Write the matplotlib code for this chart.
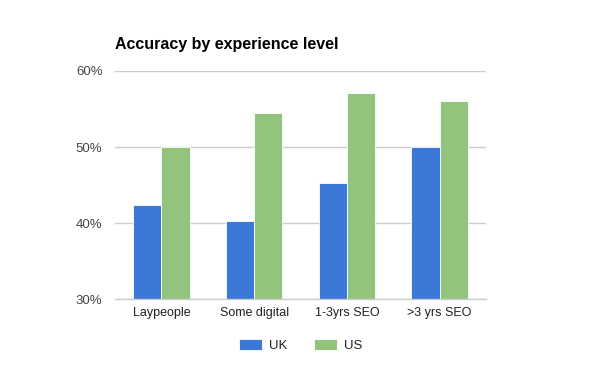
import matplotlib.pyplot as plt
import numpy as np

# Data
categories = ["Laypeople", "Some digital", "1-3yrs SEO", ">3 yrs SEO"]
uk_values = [42.4, 40.2, 45.2, 50.0]
us_values = [50.0, 54.5, 57.1, 56.0]
y_ticks = [30, 40, 50, 60]

plt.rcParams['font.family'] = ['Liberation Sans', 'DejaVu Sans']

fig = plt.figure(figsize=(6, 3.71), dpi=100)
ax = fig.add_axes([115 / 600, 1 - 299 / 371, 371 / 600, 228 / 371])

x = np.arange(len(categories))
width = 0.305
ax.bar(x - width / 2, uk_values, width, color="#3c78d8",
       edgecolor="white", linewidth=0.6, label="UK", zorder=3)
ax.bar(x + width / 2, us_values, width, color="#93c47d",
       edgecolor="white", linewidth=0.6, label="US", zorder=3)

ax.set_xlim(-0.5, len(categories) - 0.5)
ax.set_ylim(30, 60)
ax.set_yticks(y_ticks)
ax.set_yticklabels([f"{v}%" for v in y_ticks])
ax.set_xticks(x)
ax.set_xticklabels(categories)

ax.grid(axis="y", color="#cccccc", linewidth=1, zorder=0)
ax.axhline(30, color="#cccccc", linewidth=1, zorder=4, clip_on=False)
for s in ax.spines.values():
    s.set_visible(False)
ax.tick_params(axis="both", length=0)
ax.tick_params(axis="y", pad=9, colors="#444444", labelsize=9.5)
ax.tick_params(axis="x", pad=6, colors="#222222", labelsize=9)

fig.text(115 / 600, 1 - 45 / 371, "Accuracy by experience level",
         fontsize=11.5, fontweight="bold", color="black", va="center", ha="left")

ax.legend(loc="center", bbox_to_anchor=(0.5, -0.205), ncol=2, frameon=False,
          fontsize=9.5, handlelength=1.8, handleheight=0.9,
          columnspacing=2.0, handletextpad=0.5, labelcolor="#222222")

fig.savefig("out.png", dpi=100)
